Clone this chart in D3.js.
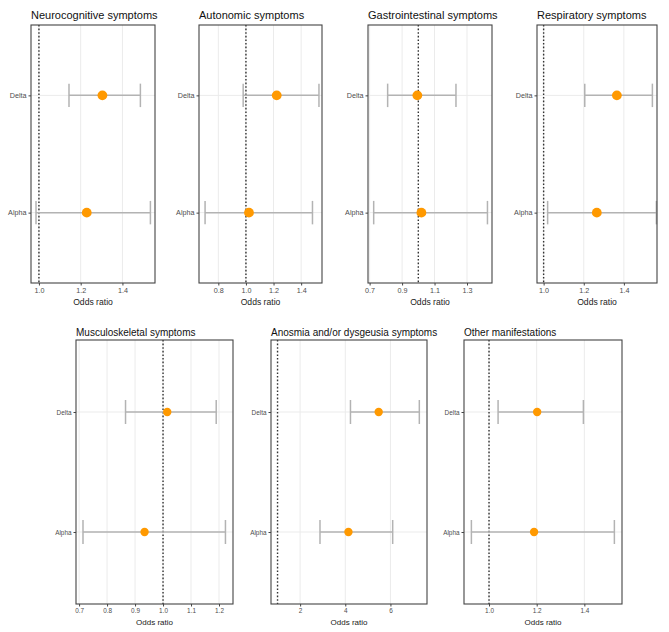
<!DOCTYPE html>
<html>
<head>
<meta charset="utf-8">
<script src="https://cdn.jsdelivr.net/npm/d3@7"></script>
<style>
  html, body { margin: 0; padding: 0; background: #fff; }
  svg { display: block; font-family: "Liberation Sans", Arial, sans-serif; }
</style>
</head>
<body>
<svg id="chart" width="669" height="632"></svg>
<script>
// ---- data ----
const variants = ["Delta", "Alpha"];
const panelTitles = [
  "Neurocognitive symptoms",
  "Autonomic symptoms",
  "Gastrointestinal symptoms",
  "Respiratory symptoms",
  "Musculoskeletal symptoms",
  "Anosmia and/or dysgeusia symptoms",
  "Other manifestations"
];
const orDelta = [1.304, 1.223, 0.994, 1.365, 1.015, 5.48, 1.202];
const loDelta = [1.144, 0.980, 0.811, 1.205, 0.866, 4.23, 1.038];
const hiDelta = [1.486, 1.529, 1.232, 1.542, 1.190, 7.28, 1.396];
const orAlpha = [1.229, 1.022, 1.019, 1.265, 0.934, 4.14, 1.189];
const loAlpha = [0.986, 0.704, 0.725, 1.020, 0.714, 2.88, 0.926];
const hiAlpha = [1.534, 1.482, 1.426, 1.562, 1.223, 6.10, 1.526];
const refLine = 1;
const xTicks = [
  [1.0, 1.2, 1.4],
  [0.8, 1.0, 1.2, 1.4],
  [0.7, 0.9, 1.1, 1.3],
  [1.0, 1.2, 1.4],
  [0.7, 0.8, 0.9, 1.0, 1.1, 1.2],
  [2, 4, 6],
  [1.0, 1.2, 1.4]
];
const xDomains = [
  [0.962, 1.556],
  [0.660, 1.551],
  [0.690, 1.454],
  [0.967, 1.565],
  [0.689, 1.250],
  [0.710, 7.620],
  [0.895, 1.558]
];
const xLabel = "Odds ratio";

// ---- layout (positions only) ----
const layout = [
  {x0: 31,  x1: 155, y0: 25,  y1: 283, big: true},
  {x0: 199, x1: 322, y0: 25,  y1: 283, big: true},
  {x0: 368, x1: 492, y0: 25,  y1: 283, big: true},
  {x0: 537, x1: 657, y0: 25,  y1: 283, big: true},
  {x0: 76,  x1: 233, y0: 340, y1: 604, big: false},
  {x0: 271, x1: 427, y0: 340, y1: 604, big: false},
  {x0: 464, x1: 622, y0: 340, y1: 604, big: false}
];

const svg = d3.select("#chart");

panelTitles.forEach((title, i) => {
  const L = layout[i];
  const rows = [
    {v: variants[0], or: orDelta[i], lo: loDelta[i], hi: hiDelta[i]},
    {v: variants[1], or: orAlpha[i], lo: loAlpha[i], hi: hiAlpha[i]}
  ];
  const x = d3.scaleLinear().domain(xDomains[i]).range([L.x0, L.x1]);
  const y = d3.scalePoint().domain(variants).range([L.y0, L.y1]).padding(0.6);
  const capH = (L.y1 - L.y0) / 2.2 * 0.2;
  const g = svg.append("g");
  const tickFs = L.big ? 7.2 : 6.4;

  // grid
  g.selectAll(".vg").data(xTicks[i]).join("line")
    .attr("x1", d => x(d)).attr("x2", d => x(d))
    .attr("y1", L.y0).attr("y2", L.y1)
    .attr("stroke", "#ebebeb").attr("stroke-width", 1);
  g.selectAll(".hg").data(variants).join("line")
    .attr("x1", L.x0).attr("x2", L.x1)
    .attr("y1", d => y(d)).attr("y2", d => y(d))
    .attr("stroke", "#ebebeb").attr("stroke-width", 1);

  // reference line
  g.append("line")
    .attr("x1", x(refLine)).attr("x2", x(refLine))
    .attr("y1", L.y0).attr("y2", L.y1)
    .attr("stroke", "#333").attr("stroke-width", 1.4)
    .attr("stroke-dasharray", "1.6,2");

  // error bars
  const eb = g.selectAll(".eb").data(rows).join("g");
  eb.append("line")
    .attr("x1", d => x(d.lo)).attr("x2", d => x(d.hi))
    .attr("y1", d => y(d.v)).attr("y2", d => y(d.v))
    .attr("stroke", "#b3b3b3").attr("stroke-width", 1.5);
  eb.append("line")
    .attr("x1", d => x(d.lo)).attr("x2", d => x(d.lo))
    .attr("y1", d => y(d.v) - capH / 2).attr("y2", d => y(d.v) + capH / 2)
    .attr("stroke", "#b3b3b3").attr("stroke-width", 1.5);
  eb.append("line")
    .attr("x1", d => x(d.hi)).attr("x2", d => x(d.hi))
    .attr("y1", d => y(d.v) - capH / 2).attr("y2", d => y(d.v) + capH / 2)
    .attr("stroke", "#b3b3b3").attr("stroke-width", 1.5);
  eb.append("circle")
    .attr("cx", d => x(d.or)).attr("cy", d => y(d.v))
    .attr("r", L.big ? 4.9 : 4.2)
    .attr("fill", "#FF9900");

  // border
  g.append("rect")
    .attr("x", L.x0).attr("y", L.y0)
    .attr("width", L.x1 - L.x0).attr("height", L.y1 - L.y0)
    .attr("fill", "none").attr("stroke", "#444").attr("stroke-width", 1.1);

  // x axis
  const fmt = i === 5 ? d3.format("d") : d3.format(".1f");
  const xa = g.append("g").attr("transform", `translate(0,${L.y1})`)
    .call(d3.axisBottom(x).tickValues(xTicks[i]).tickFormat(fmt).tickSize(2.5).tickPadding(2));
  xa.select(".domain").remove();
  xa.selectAll(".tick line").attr("stroke", "#444");
  xa.selectAll(".tick text").attr("fill", "#4d4d4d").style("font-size", tickFs + "px")
    .style("font-family", "'Liberation Sans', Arial, sans-serif");

  // y axis
  const ya = g.append("g").attr("transform", `translate(${L.x0},0)`)
    .call(d3.axisLeft(y).tickSize(2.5).tickPadding(2));
  ya.select(".domain").remove();
  ya.selectAll(".tick line").attr("stroke", "#444");
  ya.selectAll(".tick text").attr("fill", "#4d4d4d").style("font-size", tickFs + "px")
    .style("font-family", "'Liberation Sans', Arial, sans-serif");

  // x label
  g.append("text")
    .attr("x", (L.x0 + L.x1) / 2)
    .attr("y", L.y1 + (L.big ? 22 : 21))
    .attr("text-anchor", "middle")
    .attr("fill", "#222")
    .style("font-size", (L.big ? 8.6 : 8) + "px")
    .text(xLabel);

  // title
  g.append("text")
    .attr("x", L.x0)
    .attr("y", L.y0 - (L.big ? 6 : 4))
    .attr("fill", "#111")
    .style("font-size", (L.big ? 11 : 10) + "px")
    .text(title);
});
</script>
</body>
</html>
